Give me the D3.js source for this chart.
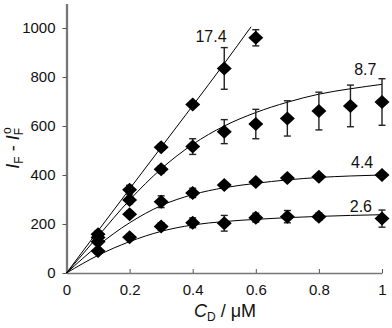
<!DOCTYPE html>
<html>
<head>
<meta charset="utf-8">
<script src="https://d3js.org/d3.v7.min.js"></script>
<style>
body { margin: 0; background: white; }
text { font-family: "Liberation Sans", Arial, sans-serif; fill: #111; }
</style>
</head>
<body>
<div id="my_dataviz"></div>
<script>
// concentrations (uM) and series labels
var series_names = ["17.4", "8.7", "4.4", "2.6"]

var x_174 = [0.1, 0.2, 0.3, 0.4, 0.5, 0.6]
var y_174 = [158, 340, 513, 688, 835, 960]
var e_174 = [15, 18, 12, 12, 85, 33]

var x_87 = [0.1, 0.2, 0.3, 0.4, 0.5, 0.6, 0.7, 0.8, 0.9, 1.0]
var y_87 = [145, 298, 423, 516, 577, 608, 631, 661, 682, 698]
var e_87 = [12, 15, 15, 32, 49, 60, 72, 77, 85, 95]

var x_44 = [0.1, 0.2, 0.3, 0.4, 0.5, 0.6, 0.7, 0.8, 1.0]
var y_44 = [128, 240, 291, 327, 359, 371, 388, 393, 400]
var e_44 = [10, 12, 24, 19, 10, 8, 8, 6, 6]

var x_26 = [0.1, 0.2, 0.3, 0.4, 0.5, 0.6, 0.7, 0.8, 1.0]
var y_26 = [90, 146, 190, 205, 203, 226, 230, 230, 222]
var e_26 = [10, 10, 15, 20, 32, 18, 25, 15, 35]

// fitted curves
var fit_x_174 = [0, 0.1, 0.2, 0.3, 0.4, 0.5, 0.585]
var fit_y_174 = [0, 172, 343, 513, 683, 855, 1005]
var fit_x = [0, 0.1, 0.2, 0.3, 0.4, 0.5, 0.6, 0.7, 0.8, 0.9, 1.0]
var fit_y_87 = [0, 150, 298, 425, 525, 600, 655, 697, 730, 752, 770]
var fit_y_44 = [0, 112, 205, 275, 320, 348, 366, 380, 390, 396, 400]
var fit_y_26 = [0, 72, 128, 170, 196, 210, 219, 226, 231, 235, 238]

var x_ticks = [0, 0.2, 0.4, 0.6, 0.8, 1]
var y_ticks = [0, 200, 400, 600, 800, 1000]

var width = 392, height = 328

var svg = d3.select("#my_dataviz")
  .append("svg")
    .attr("width", width)
    .attr("height", height)

var x = d3.scaleLinear().domain([0, 1]).range([66.5, 382])
var y = d3.scaleLinear().domain([0, 1100]).range([273, 3.5])

// axes
var xAxis = svg.append("g")
  .attr("transform", "translate(0," + y(0) + ")")
  .call(d3.axisBottom(x).tickValues(x_ticks).tickFormat(d3.format("")).tickSizeInner(-4).tickSizeOuter(0).tickPadding(11))
xAxis.select(".domain").attr("stroke", "#777").attr("stroke-width", 1.5)
xAxis.selectAll(".tick line").attr("stroke", "#555")
xAxis.selectAll("text").style("font-size", "15px").attr("fill", "#111")

var yAxis = svg.append("g")
  .attr("transform", "translate(" + x(0) + ",0)")
  .call(d3.axisLeft(y).tickValues(y_ticks).tickFormat(d3.format("d")).tickSizeInner(4).tickSizeOuter(0).tickPadding(7))
yAxis.select(".domain").attr("stroke", "#777").attr("stroke-width", 2.3)
yAxis.selectAll(".tick line").attr("stroke", "#555")
yAxis.selectAll("text").style("font-size", "15px").attr("fill", "#111")

// fitted lines
var line = d3.line()
  .x(function(d) { return x(d[0]) })
  .y(function(d) { return y(d[1]) })
  .curve(d3.curveMonotoneX)

var fits = [
  d3.zip(fit_x_174, fit_y_174),
  d3.zip(fit_x, fit_y_87),
  d3.zip(fit_x, fit_y_44),
  d3.zip(fit_x, fit_y_26)
]
fits.forEach(function(f) {
  svg.append("path")
    .datum(f)
    .attr("fill", "none")
    .attr("stroke", "#000")
    .attr("stroke-width", 1)
    .attr("d", line)
})

// points with error bars
var sets = [[x_174, y_174, e_174], [x_87, y_87, e_87], [x_44, y_44, e_44], [x_26, y_26, e_26]]
var pts = []
sets.forEach(function(s) {
  for (var i = 0; i < s[0].length; i++) {
    pts.push({cd: s[0][i], v: s[1][i], err: s[2][i]})
  }
})

var bars = svg.append("g").attr("stroke", "#222").attr("stroke-width", 1.4)
pts.forEach(function(d) {
  var cx = x(d.cd)
  bars.append("line").attr("x1", cx).attr("x2", cx).attr("y1", y(d.v - d.err)).attr("y2", y(d.v + d.err))
  bars.append("line").attr("x1", cx - 3.5).attr("x2", cx + 3.5).attr("y1", y(d.v - d.err)).attr("y2", y(d.v - d.err))
  bars.append("line").attr("x1", cx - 3.5).attr("x2", cx + 3.5).attr("y1", y(d.v + d.err)).attr("y2", y(d.v + d.err))
})

svg.selectAll(".pt")
  .data(pts)
  .enter()
  .append("path")
    .attr("class", "pt")
    .attr("d", "M0,-7L7.5,0L0,7L-7.5,0Z")
    .attr("transform", function(d) { return "translate(" + x(d.cd) + "," + y(d.v) + ")" })
    .attr("fill", "#000")

// series labels
var label_pos = [[0.458, 943], [0.947, 808], [0.937, 427], [0.933, 250]]
series_names.forEach(function(n, i) {
  svg.append("text")
    .attr("x", x(label_pos[i][0]))
    .attr("y", y(label_pos[i][1]))
    .attr("text-anchor", "middle")
    .style("font-size", "16px")
    .text(n)
})

// axis titles
var xt = svg.append("text")
  .attr("x", 225)
  .attr("y", 317)
  .attr("text-anchor", "middle")
  .style("font-size", "18px")
xt.append("tspan").style("font-style", "italic").text("C")
xt.append("tspan").attr("dy", 4).style("font-size", "12px").text("D")
xt.append("tspan").attr("dy", -4).text(" / \u03bcM")

var yt = svg.append("text")
  .attr("transform", "translate(19,148) rotate(-90)")
  .attr("text-anchor", "middle")
  .style("font-size", "18px")
yt.append("tspan").style("font-style", "italic").text("I")
yt.append("tspan").attr("dy", 4).style("font-size", "12px").text("F")
yt.append("tspan").attr("dy", -4).text(" - ")
yt.append("tspan").style("font-style", "italic").text("I")
yt.append("tspan").attr("dy", 4).style("font-size", "12px").text("F")
yt.append("tspan").attr("dy", -12).attr("dx", -6).style("font-size", "12px").text("o")
</script>
</body>
</html>
